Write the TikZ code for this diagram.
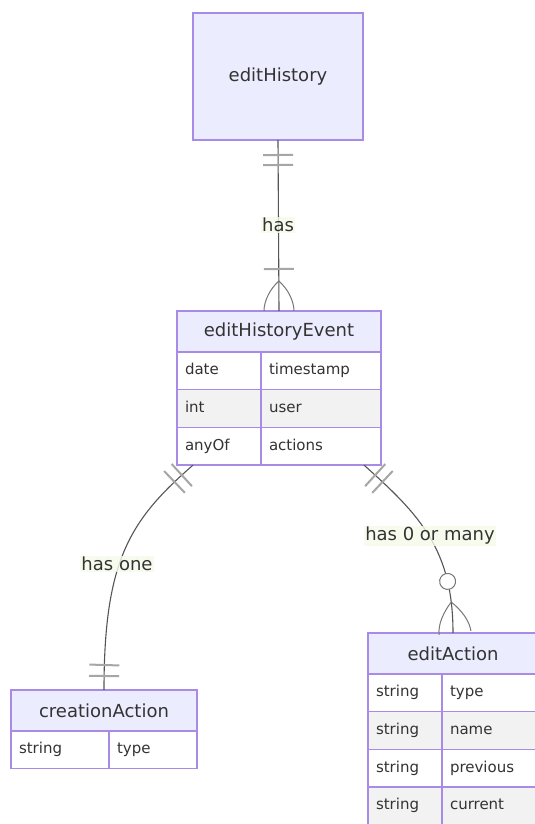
\documentclass[tikz,border=0pt]{standalone}
\usepackage{fontspec}
\setmainfont{DejaVu Sans}
\usepackage{xcolor}
\usepackage{tikz}
\usetikzlibrary{calc,decorations.markings}
\definecolor{entfill}{HTML}{ECECFF}
\definecolor{entline}{HTML}{A88BE6}
\definecolor{rowgray}{HTML}{F2F2F2}
\definecolor{ink}{HTML}{333333}
\definecolor{relline}{HTML}{555555}
\definecolor{markgray}{HTML}{A6A6A6}
\definecolor{footgray}{HTML}{777777}
\definecolor{labbg}{HTML}{F6FBE9}
\tikzset{
  ent/.style={draw=entline, fill=entfill, line width=1.4pt, text=ink, outer sep=0pt,
    inner sep=0pt, font=\fontsize{18}{21}\selectfont},
  head/.style={ent, anchor=north west, minimum height=41},
  cell/.style={draw=entline, line width=1.4pt, text=ink, outer sep=0pt, anchor=north west,
    inner xsep=8pt, inner ysep=0pt, minimum height=37.7, text height=11pt, text depth=3pt,
    align=left, font=\fontsize{15}{17}\selectfont},
  oddrow/.style={cell, fill=white},
  evenrow/.style={cell, fill=rowgray},
  rel/.style={draw=relline, line width=1.1pt},
  bar/.style={draw=markgray, line width=2pt},
  foot/.style={draw=footgray, line width=1pt},
  lbl/.style={fill=labbg, fill opacity=0.8, text opacity=1, text=ink, inner sep=1.5pt,
    font=\fontsize{18}{21}\selectfont},
  onlyone start/.style={postaction={decorate,decoration={markings,
      mark=at position 15pt with {\draw[bar] (0,-15) -- (0,15);},
      mark=at position 25pt with {\draw[bar] (0,-15) -- (0,15);}}}},
  onlyone end/.style={postaction={decorate,decoration={markings,
      mark=at position -25pt with {\draw[bar] (0,-15) -- (0,15);},
      mark=at position -14pt with {\draw[bar] (0,-15) -- (0,15);}}}},
  % crow's foot drawn from its apex
  onemany end/.style={postaction={decorate,decoration={markings,
      mark=at position -42pt with {\draw[bar] (0,-15) -- (0,15);},
      mark=at position -30pt with {\draw[foot] (30,-15) .. controls (20,-15) and (8,-9) .. (0,0)
        .. controls (8,9) and (20,15) .. (30,15);}}}},
  zeromany end/.style={postaction={decorate,decoration={markings,
      mark=at position -52pt with {\draw[foot, fill=white] (0,0) circle (8);},
      mark=at position -31pt with {\draw[foot] (31,-16) .. controls (21,-16) and (9,-9) .. (0,0)
        .. controls (9,9) and (21,16) .. (31,16);}}}},
}

\begin{document}
\begin{tikzpicture}[x=1pt,y=-1pt]
  \clip (0,0) rectangle (535,824);
  \fill[white] (0,0) rectangle (535,824);

  % entities
  \node[ent, anchor=north west, minimum width=170, minimum height=127] (hist) at (193,13) {editHistory};

  \node[head, minimum width=204] (evt) at (177,311) {editHistoryEvent};
  \node[oddrow, text width=68] (evtK1) at (evt.south west) {date};
  \node[oddrow, text width=104] (evtV1) at (evtK1.north east) {timestamp};
  \node[evenrow, text width=68] (evtK2) at (evtK1.south west) {int};
  \node[evenrow, text width=104] (evtV2) at (evtK2.north east) {user};
  \node[oddrow, text width=68] (evtK3) at (evtK2.south west) {anyOf};
  \node[oddrow, text width=104] (evtV3) at (evtK3.north east) {actions};

  \node[head, minimum width=186] (crt) at (11,690) {creationAction};
  \node[oddrow, text width=82] (crtK1) at (crt.south west) {string};
  \node[oddrow, text width=72] (crtV1) at (crtK1.north east) {type};

  \node[head, minimum width=170] (act) at (368,633) {editAction};
  \node[oddrow, text width=58] (actK1) at (act.south west) {string};
  \node[oddrow, text width=80] (actV1) at (actK1.north east) {type};
  \node[evenrow, text width=58] (actK2) at (actK1.south west) {string};
  \node[evenrow, text width=80] (actV2) at (actK2.north east) {name};
  \node[oddrow, text width=58] (actK3) at (actK2.south west) {string};
  \node[oddrow, text width=80] (actV3) at (actK3.north east) {previous};
  \node[evenrow, text width=58] (actK4) at (actK3.south west) {string};
  \node[evenrow, text width=80] (actV4) at (actK4.north east) {current};

  % relationships
  \draw[rel, onlyone start, onemany end] (hist.south) -- (evt.north);
  \draw[rel, onlyone start, onlyone end] ([xshift=16]evtK3.south west)
    .. controls (130,520) and (104,560) .. (crt.north);
  \draw[rel, onlyone start, zeromany end] ([xshift=-17]evtV3.south east)
    .. controls (420,515) and (453,550) .. (act.north);

  \node[lbl] (hasL) at (278,225) {has};
  \node[lbl] (hasOneL) at (117,564) {has one};
  \node[lbl] (hasManyL) at (430,536) {has 0 or many};
\end{tikzpicture}
\end{document}
